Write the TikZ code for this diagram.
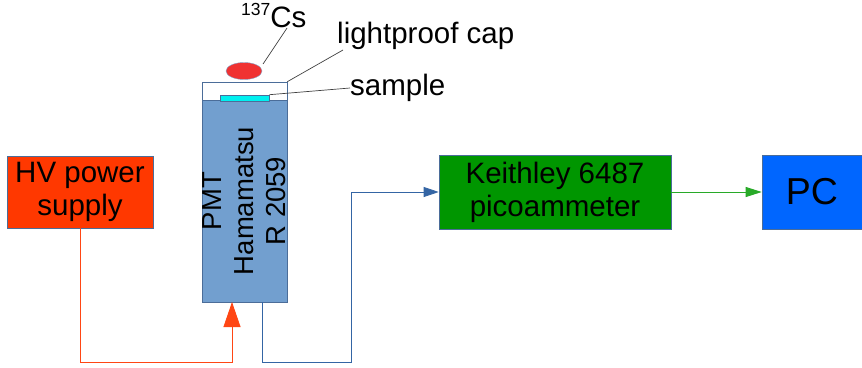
\documentclass[tikz,border=0pt]{standalone}
\usepackage{fontspec}
\setmainfont{Liberation Sans}
\usetikzlibrary{arrows.meta,shapes.geometric}
\definecolor{hvred}{RGB}{255,56,0}
\definecolor{pmtblue}{RGB}{114,159,207}
\definecolor{edgeblue}{RGB}{52,101,164}
\definecolor{kgreen}{RGB}{0,150,0}
\definecolor{pcblue}{RGB}{0,102,255}
\definecolor{csred}{RGB}{240,50,50}
\definecolor{smpcyan}{RGB}{0,240,240}
\definecolor{lgreen}{RGB}{40,170,40}
\definecolor{redline}{RGB}{255,70,20}
\tikzset{
  box/.style={draw=edgeblue!70!gray, line width=0.6pt, inner sep=0pt, align=center,
    font=\fontsize{29.5}{33}\selectfont},
  lbl/.style={inner sep=0pt, font=\fontsize{29.5}{33}\selectfont},
  pointer/.style={draw=black!75, line width=0.7pt},
}
\begin{document}
\begin{tikzpicture}[x=1pt,y=-1pt]
\useasboundingbox (0,0) rectangle (862,367);
% boxes
\node[box, fill=hvred, minimum width=146pt, minimum height=72pt] (hv) at (80,192) {HV power\\supply};
\node[box, fill=pmtblue, minimum width=85pt, minimum height=202pt] (pmt) at (244.5,201) {};
\node[rotate=90, align=center, inner sep=0pt, font=\fontsize{27.5}{32}\selectfont] (pmttext) at (244.5,201) {PMT\\Hamamatsu\\R 2059};
\node[box, fill=white, minimum width=85pt, minimum height=18pt] (cap) at (244.5,91) {};
\node[box, fill=smpcyan, minimum width=49pt, minimum height=6pt] (smp) at (244.5,98) {};
\node[ellipse, draw=edgeblue!60, line width=0.4pt, fill=csred, minimum width=36pt, minimum height=17pt, inner sep=0pt] (cs) at (244,71) {};
\node[box, fill=kgreen, minimum width=232pt, minimum height=74pt] (kt) at (555,192) {Keithley 6487\\picoammeter};
\node[box, fill=pcblue, minimum width=100pt, minimum height=74pt, font=\fontsize{37.5}{40}\selectfont] (pc) at (812,192) {PC};
% labels
\node[lbl, anchor=base west] (cslbl) at (241,27) {\raisebox{12pt}{\fontsize{17.5}{17}\selectfont 137}Cs};
\node[lbl, anchor=base west] (caplbl) at (337,43) {lightproof cap};
\node[lbl, anchor=base west] (smplbl) at (350,95) {sample};
% pointer lines
\coordinate (csp) at (287,28);
\coordinate (csq) at (263,64);
\coordinate (capp) at (343,50);
\coordinate (smpp) at (350,88);
\draw[pointer] (csp) -- (csq);
\draw[pointer] (capp) -- (cap.north east);
\draw[pointer] (smpp) -- (smp.north east);
% connectors
\coordinate (hvdown) at (80,362);
\coordinate (pmtin) at (232,302);
\draw[redline, line width=0.8pt, -{Triangle[length=25pt,width=17pt]}] (hv.south) -- (hvdown) -| (pmtin);
\coordinate (pmtout) at (262.5,302);
\coordinate (bl1) at (262.5,362);
\coordinate (bl2) at (351,362);
\draw[edgeblue, line width=0.8pt, -{Triangle[length=15pt,width=10pt]}] (pmtout) -- (bl1) -- (bl2) |- (kt.west);
\draw[lgreen, line width=0.8pt, -{Triangle[length=16pt,width=10pt]}] (kt.east) -- (pc.west);
\end{tikzpicture}
\end{document}
